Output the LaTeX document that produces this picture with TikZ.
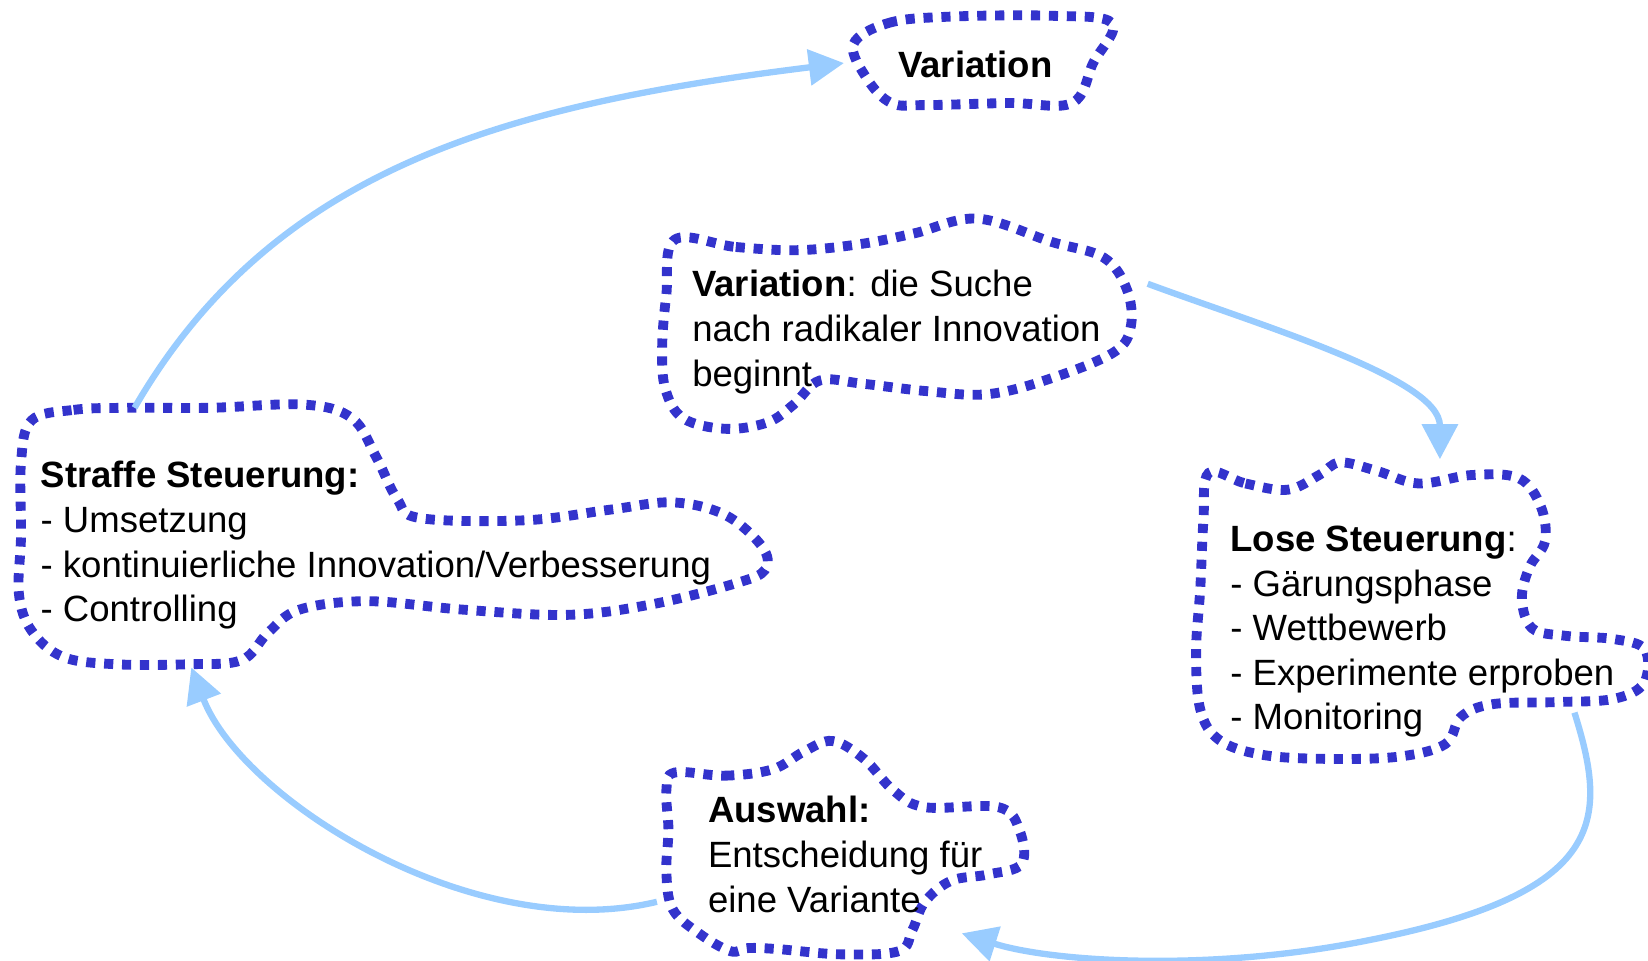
\documentclass[tikz,border=0pt]{standalone}
\usepackage{fontspec}
\setmainfont{Liberation Sans}
\usetikzlibrary{arrows.meta}
\definecolor{blobblue}{HTML}{3333CC}
\definecolor{flowblue}{HTML}{99CCFF}

\begin{document}
\begin{tikzpicture}[x=0.01051cm, y=-0.01051cm,
  blob/.style={draw=blobblue, line width=2.8pt, dash pattern=on 2.6pt off 2.5pt},
  txt/.style={align=left, inner sep=0pt, font=\fontsize{10.4}{12.7}\selectfont},
  flow/.style={draw=flowblue, line width=1.8pt, -{Triangle[length=10pt,width=10pt]}}]
\useasboundingbox (0,0) rectangle (1568,914);
% clouds
\draw[blob] plot[smooth cycle, tension=0.6] coordinates {(812,42) (845,22) (900,16) (1000,15) (1058,22) (1040,60) (1020,98) (960,98) (880,100) (848,98) (825,75)};
\draw[blob] plot[smooth cycle, tension=0.6] coordinates {(642,228) (700,235) (760,238) (820,232) (870,222) (930,208) (1000,230) (1050,245) (1072,275) (1076,310) (1060,335) (1000,360) (940,375) (880,372) (820,365) (780,362) (755,385) (730,402) (690,408) (650,398) (633,370) (630,330) (634,280)};
\draw[blob] plot[smooth cycle, tension=0.6] coordinates {(30,400) (70,390) (120,388) (200,388) (290,385) (335,398) (358,435) (378,475) (400,493) (500,495) (580,485) (640,478) (690,490) (725,520) (728,542) (700,555) (620,575) (540,585) (440,580) (350,572) (285,580) (255,602) (230,628) (180,632) (110,632) (60,625) (30,600) (18,565) (20,510) (20,440)};
\draw[blob] plot[smooth cycle, tension=0.6] coordinates {(1150,450) (1185,460) (1225,466) (1255,452) (1275,440) (1310,448) (1350,460) (1400,452) (1445,455) (1466,482) (1470,515) (1455,540) (1448,570) (1458,598) (1490,605) (1535,608) (1565,618) (1564,650) (1535,665) (1480,668) (1420,670) (1390,682) (1375,708) (1330,720) (1260,722) (1200,718) (1160,704) (1142,675) (1138,620) (1142,560) (1145,495)};
\draw[blob] plot[smooth cycle, tension=0.6] coordinates {(642,735) (690,738) (735,732) (765,715) (792,705) (822,722) (850,752) (880,768) (950,768) (970,790) (972,822) (940,832) (905,838) (880,858) (868,885) (855,905) (800,908) (740,903) (712,902) (695,905) (665,888) (640,865) (634,830) (636,790) (634,752)};
% texts
\node[txt, font=\fontsize{10.4}{12.7}\selectfont\bfseries] (var) at (928,61) {Variation};
\node[txt, anchor=west] (such) at (658,316) {\textbf{Variation}: die Suche\\nach radikaler Innovation\\beginnt};
\node[txt, anchor=west] (straff) at (38,519) {\textbf{Straffe Steuerung:}\\- Umsetzung\\- kontinuierliche Innovation/Verbesserung\\- Controlling};
\node[txt, anchor=west] (lose) at (1170,601) {\textbf{Lose Steuerung}:\\- Gärungsphase\\- Wettbewerb\\- Experimente erproben\\- Monitoring};
\node[txt, anchor=west] (ausw) at (673,813) {\textbf{Auswahl:}\\Entscheidung für\\eine Variante};
% ends of the connectors
\coordinate (straffT) at (128,388);
\coordinate (varW) at (803,60);
\coordinate (suchE) at (1092,270);
\coordinate (loseN) at (1370,437);
\coordinate (loseS) at (1498,678);
\coordinate (auswE) at (915,888);
\coordinate (auswW) at (625,858);
\coordinate (straffS) at (182,635);
% arrows
\draw[flow] (straffT) .. controls (260,160) and (480,100) .. (varW);
\draw[flow] (suchE) .. controls (1200,310) and (1370,360) .. (loseN);
\draw[flow] (loseS) .. controls (1530,780) and (1530,850) .. (1300,895) .. controls (1150,925) and (1000,915) .. (auswE);
\draw[flow] (auswW) .. controls (450,900) and (230,760) .. (straffS);
\end{tikzpicture}
\end{document}
